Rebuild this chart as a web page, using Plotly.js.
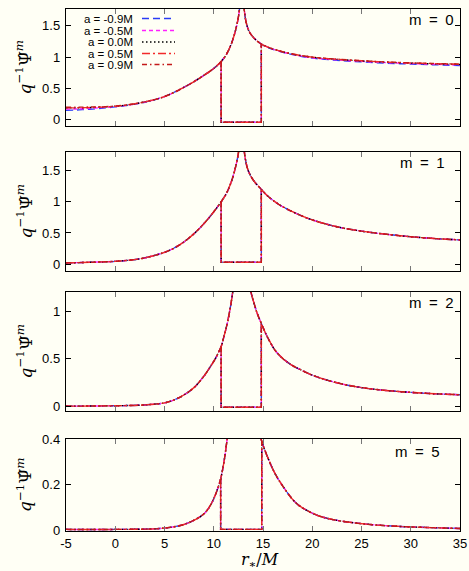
<!DOCTYPE html>
<html>
<head>
<meta charset="utf-8">
<script src="https://cdn.plot.ly/plotly-3.0.1.min.js"></script>
<style>
  html, body { margin: 0; padding: 0; background: #fffff5; }
  #chart { width: 469px; height: 571px; }
</style>
</head>
<body>
<div id="chart"></div>
<script>
// Spin values of the five runs
const spinLabels = ['a = -0.9M', 'a = -0.5M', 'a = 0.0M', 'a = 0.5M', 'a = 0.9M'];

// ---- m = 0 ----
const m0LeftR = [-5, -4, -3, -2, -1, 0, 1, 2, 3, 4, 5, 6, 7, 8, 9, 10, 10.75, 11.3, 11.8, 12.2, 12.5, 12.7, 12.85];
const m0LeftNeg09 = [0.15, 0.155, 0.165, 0.175, 0.19, 0.205, 0.225, 0.25, 0.28, 0.32, 0.37, 0.44, 0.52, 0.61, 0.71, 0.82, 0.93, 1.05, 1.22, 1.42, 1.64, 1.9, 2.3];
const m0LeftNeg05 = [0.17, 0.172, 0.178, 0.187, 0.198, 0.21, 0.228, 0.252, 0.282, 0.32, 0.37, 0.44, 0.52, 0.61, 0.71, 0.82, 0.93, 1.05, 1.22, 1.42, 1.64, 1.9, 2.3];
const m0LeftZero = [0.19, 0.19, 0.193, 0.198, 0.205, 0.215, 0.232, 0.255, 0.285, 0.322, 0.37, 0.44, 0.52, 0.61, 0.71, 0.82, 0.93, 1.05, 1.22, 1.42, 1.64, 1.9, 2.3];
const m0LeftPos05 = [0.19, 0.19, 0.193, 0.198, 0.205, 0.215, 0.232, 0.255, 0.285, 0.322, 0.37, 0.44, 0.52, 0.61, 0.71, 0.82, 0.93, 1.05, 1.22, 1.42, 1.64, 1.9, 2.3];
const m0LeftPos09 = [0.2, 0.2, 0.202, 0.205, 0.21, 0.218, 0.234, 0.256, 0.286, 0.322, 0.37, 0.44, 0.52, 0.61, 0.71, 0.82, 0.93, 1.05, 1.22, 1.42, 1.64, 1.9, 2.3];
const m0RightR = [12.85, 12.95, 13.1, 13.3, 13.6, 14.0, 14.4, 14.83, 15.5, 16.5, 18, 20, 22.5, 25, 27.5, 30, 32.5, 35];
const m0RightNeg09 = [2.4, 2.0, 1.75, 1.55, 1.41, 1.32, 1.26, 1.21, 1.155, 1.1, 1.04, 0.985, 0.95, 0.925, 0.905, 0.89, 0.878, 0.868];
const m0RightNeg05 = [2.4, 2.0, 1.75, 1.55, 1.41, 1.32, 1.26, 1.21, 1.158, 1.104, 1.045, 0.99, 0.958, 0.933, 0.913, 0.898, 0.886, 0.876];
const m0RightZero = [2.4, 2.0, 1.75, 1.55, 1.41, 1.32, 1.26, 1.21, 1.16, 1.108, 1.05, 1.0, 0.965, 0.94, 0.92, 0.905, 0.893, 0.884];
const m0RightPos05 = [2.4, 2.0, 1.75, 1.55, 1.41, 1.32, 1.26, 1.21, 1.16, 1.108, 1.05, 1.0, 0.967, 0.942, 0.922, 0.907, 0.896, 0.887];
const m0RightPos09 = [2.4, 2.0, 1.75, 1.55, 1.41, 1.32, 1.26, 1.21, 1.16, 1.108, 1.05, 1.0, 0.968, 0.944, 0.924, 0.909, 0.898, 0.889];
const m0TubeR = [10.75, 10.75, 14.83, 14.83];
const m0TubeVal = [0.93, -0.04, -0.04, 1.21];

// ---- m = 1 ----
const m1LeftR = [-5, -2.5, 0, 2.5, 4, 5, 6, 7, 8, 9, 10, 10.75, 11.3, 11.8, 12.2, 12.5, 12.7, 12.85];
const m1LeftVal = [0.02, 0.03, 0.045, 0.085, 0.14, 0.19, 0.26, 0.36, 0.49, 0.65, 0.84, 1.0, 1.14, 1.33, 1.55, 1.78, 2.05, 2.4];
const m1RightR = [12.9, 13.0, 13.15, 13.4, 13.7, 14.1, 14.83, 15.5, 16.5, 17.5, 19, 20, 22.5, 25, 27.5, 30, 32.5, 35];
const m1RightVal = [2.4, 2.0, 1.75, 1.55, 1.43, 1.33, 1.2, 1.09, 0.97, 0.88, 0.77, 0.71, 0.6, 0.53, 0.48, 0.44, 0.41, 0.39];
const m1TubeR = [10.75, 10.75, 14.83, 14.83];
const m1TubeVal = [1.0, 0.03, 0.03, 1.2];

// ---- m = 2 ----
const m2LeftR = [-5, -2.5, 0, 2.5, 4, 5, 6, 7, 8, 9, 9.6, 10.2, 10.75, 11.0, 11.3, 11.6, 11.9, 12.2, 12.5];
const m2LeftVal = [0.005, 0.007, 0.01, 0.016, 0.027, 0.04, 0.072, 0.125, 0.2, 0.32, 0.41, 0.51, 0.63, 0.72, 0.84, 0.99, 1.18, 1.45, 1.85];
const m2RightR = [13.1, 13.4, 13.78, 14.1, 14.4, 14.83, 15.3, 15.7, 16.3, 17.06, 18, 18.75, 20, 22.5, 25, 27.5, 30, 32.5, 35];
const m2RightVal = [2.0, 1.5, 1.2, 1.08, 0.98, 0.87, 0.76, 0.68, 0.58, 0.5, 0.43, 0.39, 0.33, 0.25, 0.2, 0.17, 0.15, 0.135, 0.125];
const m2TubeR = [10.75, 10.75, 14.83, 14.83];
const m2TubeVal = [0.63, -0.005, -0.005, 0.87];

// ---- m = 5 ----
const m5LeftR = [-5, 0, 4.5, 6.6, 7.6, 8.6, 9.2, 9.8, 10.3, 10.7, 11.0, 11.3, 11.6, 12];
const m5LeftVal = [0.003, 0.003, 0.007, 0.02, 0.035, 0.058, 0.08, 0.12, 0.17, 0.225, 0.29, 0.38, 0.5, 0.75];
const m5RightR = [14.1, 14.4, 14.6, 14.87, 15.38, 16.2, 17.06, 18, 18.75, 20.45, 22.1, 25.5, 28.9, 32, 35];
const m5RightVal = [0.62, 0.49, 0.44, 0.39, 0.33, 0.25, 0.19, 0.135, 0.105, 0.066, 0.046, 0.026, 0.016, 0.011, 0.007];
const m5TubeR = [10.7, 10.7, 14.87, 14.87];
const m5TubeVal = [0.225, 0.003, 0.003, 0.39];

// axis tick labels
const xTicks = [-5, 0, 5, 10, 15, 20, 25, 30, 35];
const yTicksA = [0, 0.5, 1, 1.5];
const yTicksB = [0, 0.5, 1];
const yTicksC = [0, 0.2, 0.4];
const panelLabels = ['m\u2002=\u20020', 'm\u2002=\u20021', 'm\u2002=\u20022', 'm\u2002=\u20025'];

// line style for each spin
const lineColors = ['#2b3cf5', '#ff20ff', '#000000', '#f22a2a', '#c41a1a'];
const lineDashes = ['7px,4px', '4px,3px', '1.5px,2.5px', '8px,3px,2px,3px', '5px,3px,1.5px,3px'];

const traces = [];
function addSeries(xa, ya, xs, ys, i) {
  traces.push({
    type: 'scatter', mode: 'lines', x: xs, y: ys, xaxis: xa, yaxis: ya,
    showlegend: false, hoverinfo: 'skip',
    line: { color: lineColors[i], dash: lineDashes[i], width: 1.4, shape: 'spline', smoothing: 1 }
  });
}
function addTube(xa, ya, xs, ys, i) {
  traces.push({
    type: 'scatter', mode: 'lines', x: xs, y: ys, xaxis: xa, yaxis: ya,
    showlegend: false, hoverinfo: 'skip',
    line: { color: lineColors[i], dash: lineDashes[i], width: 1.4 }
  });
}

const m0Left = [m0LeftNeg09, m0LeftNeg05, m0LeftZero, m0LeftPos05, m0LeftPos09];
const m0Right = [m0RightNeg09, m0RightNeg05, m0RightZero, m0RightPos05, m0RightPos09];
for (let i = 0; i < 5; i++) {
  addSeries('x', 'y', m0LeftR, m0Left[i], i);
  addSeries('x', 'y', m0RightR, m0Right[i], i);
  addTube('x', 'y', m0TubeR, m0TubeVal, i);

  addSeries('x2', 'y2', m1LeftR, m1LeftVal, i);
  addSeries('x2', 'y2', m1RightR, m1RightVal, i);
  addTube('x2', 'y2', m1TubeR, m1TubeVal, i);

  addSeries('x3', 'y3', m2LeftR, m2LeftVal, i);
  addSeries('x3', 'y3', m2RightR, m2RightVal, i);
  addTube('x3', 'y3', m2TubeR, m2TubeVal, i);

  addSeries('x4', 'y4', m5LeftR, m5LeftVal, i);
  addSeries('x4', 'y4', m5RightR, m5RightVal, i);
  addTube('x4', 'y4', m5TubeR, m5TubeVal, i);
}

// plot area in pixels: x 66..460, y 9..531
const H = 522, B = 531;
const toPY = py => (B - py) / H;
const toPX = px => (px - 66) / 394;

const tickFont = { family: 'Liberation Sans, Arial, sans-serif', size: 13, color: '#000' };
function xAxis(anchor, labels) {
  return {
    anchor: anchor, domain: [0, 1], range: [-5, 35],
    tickvals: xTicks, ticktext: xTicks.map(String), showticklabels: labels,
    ticks: 'inside', ticklen: 5, tickwidth: 1, tickcolor: '#777', mirror: 'allticks',
    showline: true, linecolor: '#000', linewidth: 1.2, showgrid: false, zeroline: false,
    tickfont: tickFont, fixedrange: true
  };
}
function yAxis(anchor, dom, range, ticks) {
  return {
    anchor: anchor, domain: dom, range: range,
    tickvals: ticks, ticktext: ticks.map(String),
    ticks: 'inside', ticklen: 5, tickwidth: 1, tickcolor: '#000', mirror: 'allticks',
    showline: true, linecolor: '#000', linewidth: 1.2, showgrid: false, zeroline: false,
    tickfont: tickFont, ticklabelstandoff: 2, fixedrange: true
  };
}

const yTitle = '<i>q</i><sup>−1</sup>Ψ̂<sup><i>m</i></sup>';
const titleFont = { family: 'DejaVu Serif, Liberation Serif, serif', size: 17, color: '#000' };
const panelCenters = [67.5, 211.5, 351.5, 485];
const annotations = panelCenters.map(py => ({
  xref: 'paper', yref: 'paper', x: toPX(24), y: toPY(py),
  text: yTitle, showarrow: false, textangle: -90, font: titleFont,
  xanchor: 'center', yanchor: 'middle'
}));

// panel labels
const labelPos = [[456, 20], [447, 162], [456, 302], [442, 451]];
panelLabels.forEach((t, k) => annotations.push({
  xref: 'paper', yref: 'paper', x: toPX(labelPos[k][0]), y: toPY(labelPos[k][1]),
  text: t, showarrow: false, xanchor: 'right', yanchor: 'middle',
  font: { family: 'Liberation Sans, Arial, sans-serif', size: 15, color: '#000' }
}));

// x axis title
annotations.push({
  xref: 'paper', yref: 'paper', x: toPX(260), y: toPY(560),
  text: '<i>r</i><sub>∗</sub>/<i>M</i>', showarrow: false,
  xanchor: 'center', yanchor: 'middle', font: { family: 'DejaVu Serif, Liberation Serif, serif', size: 16, color: '#000' }
});

// key in the first panel: text right-aligned, line sample to its right
const keyRows = [18.5, 30.5, 42, 53.5, 64.5];
const shapes = [];
spinLabels.forEach((t, i) => {
  annotations.push({
    xref: 'paper', yref: 'paper', x: toPX(135), y: toPY(keyRows[i]),
    text: t, showarrow: false, xanchor: 'right', yanchor: 'middle',
    font: { family: 'Liberation Sans, Arial, sans-serif', size: 11.5, color: '#000' }
  });
  shapes.push({
    type: 'line', xref: 'paper', yref: 'paper',
    x0: toPX(142), x1: toPX(175), y0: toPY(keyRows[i]), y1: toPY(keyRows[i]),
    line: { color: lineColors[i], dash: lineDashes[i], width: 1.4 }
  });
});

const layout = {
  width: 469, height: 571,
  margin: { l: 66, r: 9, t: 9, b: 40, pad: 0 },
  paper_bgcolor: '#fffff5', plot_bgcolor: '#fffff5',
  showlegend: false,
  xaxis: xAxis('y', false),
  xaxis2: xAxis('y2', false),
  xaxis3: xAxis('y3', false),
  xaxis4: xAxis('y4', true),
  yaxis: yAxis('x', [toPY(126), 1], [-0.1, 1.77], yTicksA),
  yaxis2: yAxis('x2', [toPY(271), toPY(152)], [-0.11, 1.8], yTicksA),
  yaxis3: yAxis('x3', [toPY(411), toPY(292)], [-0.045, 1.2], yTicksB),
  yaxis4: yAxis('x4', [0, toPY(439)], [-0.004, 0.4], yTicksC),
  annotations: annotations,
  shapes: shapes
};

Plotly.newPlot('chart', traces, layout, { displayModeBar: false, staticPlot: true });
</script>
</body>
</html>
